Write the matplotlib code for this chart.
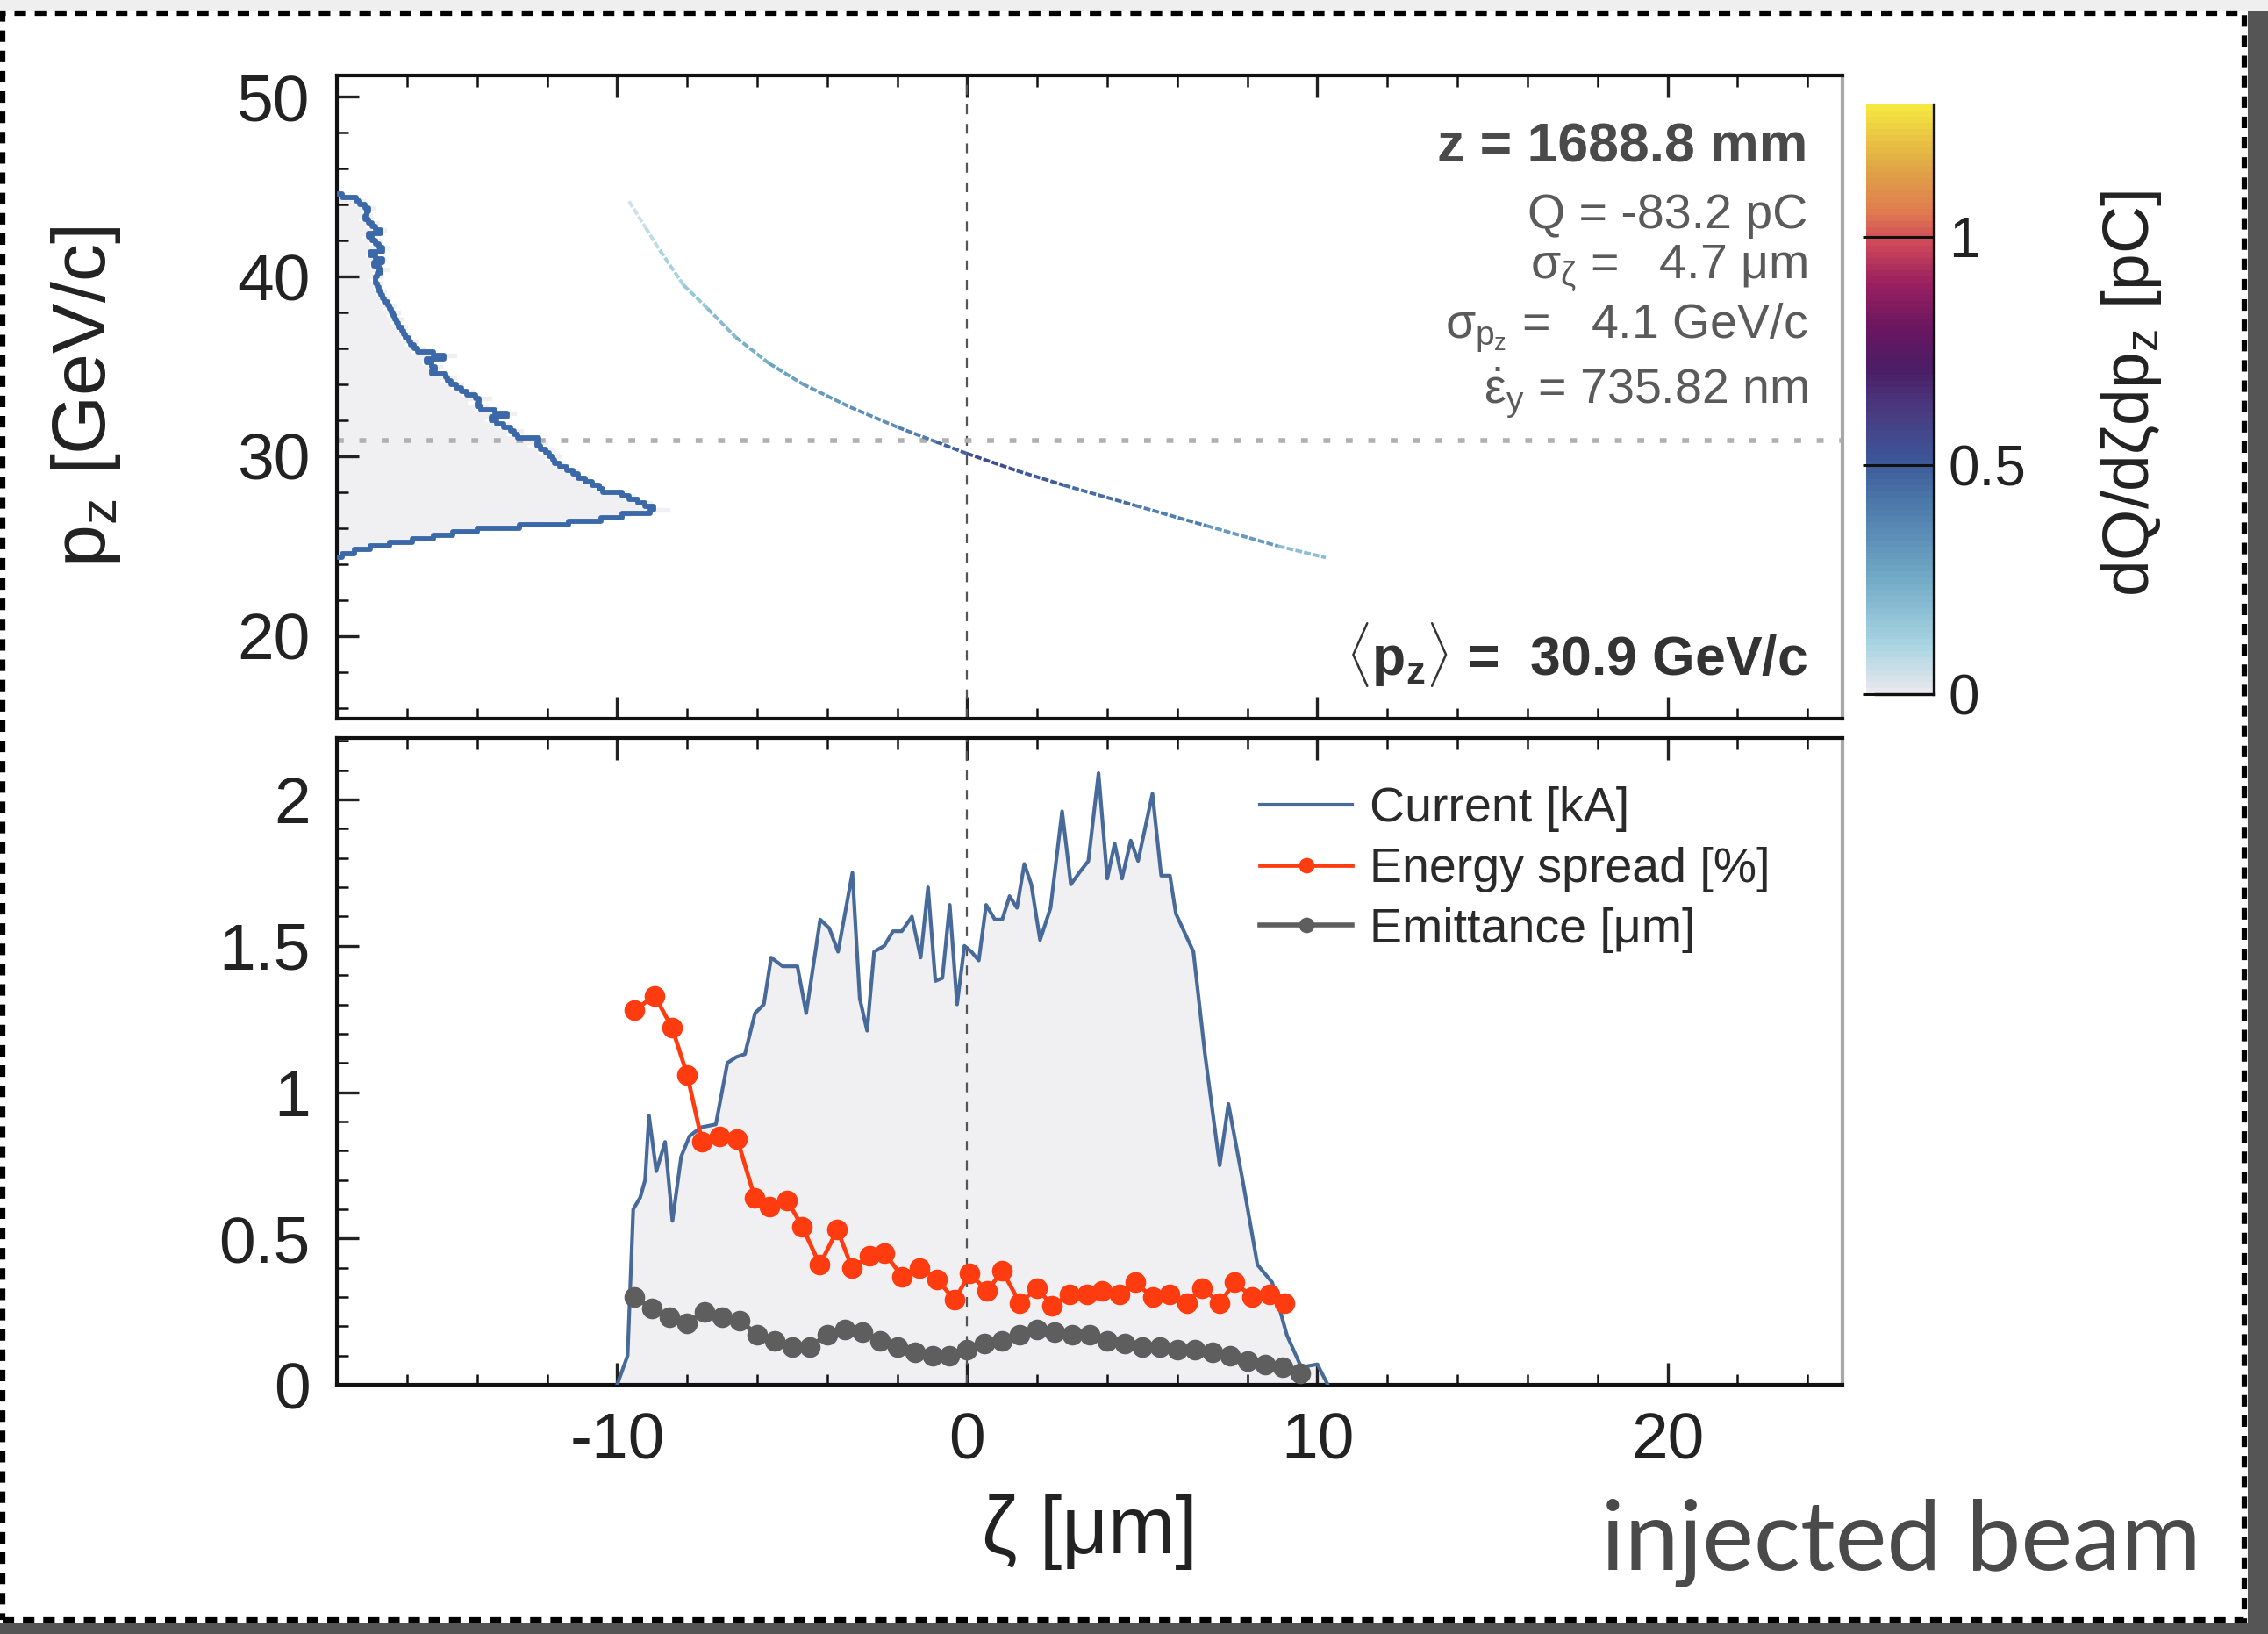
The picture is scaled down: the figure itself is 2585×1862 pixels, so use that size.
import numpy as np
import matplotlib
matplotlib.use('Agg')
import matplotlib.pyplot as plt
from matplotlib.colors import LinearSegmentedColormap, Normalize
from matplotlib.collections import LineCollection
from matplotlib.patches import Rectangle
from matplotlib.ticker import MultipleLocator, FormatStrFormatter
import matplotlib.cm as cm

plt.rcParams['font.family'] = ['Liberation Sans', 'DejaVu Sans']
plt.rcParams['mathtext.fontset'] = 'custom'
plt.rcParams['mathtext.rm'] = 'Liberation Sans'
plt.rcParams['mathtext.it'] = 'Liberation Sans'
plt.rcParams['mathtext.bf'] = 'Liberation Sans:bold'
plt.rcParams['axes.unicode_minus'] = False

# ---- datos ----
# proyeccion del espectro pz (ancho del histograma en unidades de zeta)
pz_bins = np.arange(24.4, 44.61, 0.2)
pz_hist = [0.0, 0.3, 0.7, 1.2, 1.8, 2.5, 3.0, 3.6, 4.4, 6.0,
           7.2, 7.9, 8.4, 9.5, 8.6, 9.0, 8.2, 8.5, 7.8, 7.4,
           7.6, 7.0, 7.2, 6.6, 6.9, 6.2, 6.5, 5.9, 6.4, 5.7,
           6.2, 5.4, 6.0, 5.5, 4.8, 5.3, 4.6, 4.9, 4.2, 4.6,
           5.1, 3.9, 4.3, 3.7, 4.4, 3.5, 3.9, 3.2, 3.6, 2.9,
           3.4, 2.8, 2.6, 3.0, 2.4, 2.7, 3.4, 2.1, 2.5, 1.9,
           2.3, 1.8, 2.1, 1.7, 2.0, 1.5, 1.9, 1.4, 1.8, 1.3,
           1.7, 1.2, 1.5, 1.1, 1.4, 1.0, 1.3, 0.9, 1.3, 1.0,
           1.5, 0.9, 1.2, 1.4, 0.8, 1.1, 1.5, 0.9, 1.3, 0.7,
           1.1, 1.4, 0.8, 1.2, 0.6, 1.0, 0.7, 1.1, 0.5, 0.8,
           0.3, 0.0]

# espacio de fases (zeta, pz) y densidad de carga
ps_zeta = [-9.66, -9.19, -8.78, -8.10, -7.42, -6.61, -5.66, -4.71, -3.35,
           -1.99, -0.90, -0.02, 1.41, 2.76, 4.80, 6.84, 8.88, 10.24]
ps_pz = [44.19, 42.74, 41.46, 39.52, 38.23, 36.62, 35.17, 34.03, 32.74,
         31.62, 30.81, 30.16, 29.20, 28.39, 27.26, 26.13, 25.00, 24.36]
ps_dens = [0.05, 0.08, 0.12, 0.16, 0.2, 0.24, 0.28, 0.3, 0.34,
           0.4, 0.48, 0.55, 0.5, 0.45, 0.4, 0.3, 0.18, 0.06]

# corriente
cur_zeta = [-10.0, -9.7, -9.54, -9.34, -9.2, -9.09, -8.88, -8.63, -8.42, -8.17,
            -7.93, -7.6, -7.18, -6.85, -6.6, -6.35, -6.06, -5.81, -5.6, -5.27,
            -4.85, -4.6, -4.2, -3.94, -3.69, -3.28, -3.07, -2.86, -2.66, -2.37,
            -2.12, -1.87, -1.58, -1.33, -1.12, -0.91, -0.71, -0.5, -0.29, -0.08,
            0.12, 0.33, 0.54, 0.79, 1.0, 1.21, 1.42, 1.63, 1.83, 2.08,
            2.38, 2.71, 2.96, 3.2, 3.46, 3.75, 4.0, 4.21, 4.42, 4.67,
            4.88, 5.29, 5.54, 5.79, 5.96, 6.46, 6.79, 7.21, 7.46, 7.88,
            8.29, 8.71, 9.13, 9.54, 10.0, 10.3]
cur_ka = [0.0, 0.10, 0.60, 0.64, 0.70, 0.92, 0.73, 0.83, 0.56, 0.78,
          0.85, 0.88, 0.89, 1.10, 1.12, 1.13, 1.27, 1.30, 1.46, 1.43,
          1.43, 1.27, 1.59, 1.56, 1.48, 1.75, 1.32, 1.21, 1.48, 1.50,
          1.55, 1.55, 1.60, 1.46, 1.70, 1.38, 1.39, 1.64, 1.30, 1.50,
          1.48, 1.45, 1.64, 1.59, 1.59, 1.67, 1.63, 1.78, 1.71, 1.52,
          1.63, 1.96, 1.71, 1.75, 1.79, 2.09, 1.73, 1.85, 1.73, 1.86,
          1.79, 2.02, 1.74, 1.74, 1.61, 1.48, 1.13, 0.75, 0.96, 0.69,
          0.41, 0.35, 0.17, 0.06, 0.07, 0.0]

# dispersion de energia
es_zeta = [-9.5, -8.93, -8.43, -8.0, -7.57, -7.07, -6.57, -6.07, -5.64, -5.14,
           -4.71, -4.21, -3.71, -3.29, -2.79, -2.36, -1.86, -1.36, -0.86, -0.36,
           0.07, 0.57, 1.0, 1.5, 2.0, 2.43, 2.93, 3.43, 3.86, 4.36,
           4.79, 5.29, 5.79, 6.29, 6.71, 7.21, 7.64, 8.14, 8.64, 9.07]
es_pct = [1.28, 1.33, 1.22, 1.06, 0.83, 0.85, 0.84, 0.64, 0.61, 0.63,
          0.54, 0.41, 0.53, 0.40, 0.44, 0.45, 0.37, 0.40, 0.36, 0.29,
          0.38, 0.32, 0.39, 0.28, 0.33, 0.27, 0.31, 0.31, 0.32, 0.31,
          0.35, 0.30, 0.31, 0.28, 0.33, 0.28, 0.35, 0.30, 0.31, 0.28]

# emitancia
em_zeta = [-9.5, -9.0, -8.5, -8.0, -7.5, -7.0, -6.5, -6.0, -5.5, -5.0,
           -4.5, -4.0, -3.5, -3.0, -2.5, -2.0, -1.5, -1.0, -0.5, 0.0,
           0.5, 1.0, 1.5, 2.0, 2.5, 3.0, 3.5, 4.0, 4.5, 5.0,
           5.5, 6.0, 6.5, 7.0, 7.5, 8.0, 8.5, 9.0, 9.5]
em_um = [0.30, 0.26, 0.23, 0.21, 0.25, 0.23, 0.22, 0.17, 0.15, 0.13,
         0.13, 0.17, 0.19, 0.18, 0.15, 0.13, 0.11, 0.10, 0.10, 0.12,
         0.14, 0.15, 0.17, 0.19, 0.18, 0.17, 0.17, 0.15, 0.14, 0.13,
         0.13, 0.12, 0.12, 0.11, 0.10, 0.08, 0.07, 0.06, 0.04]

pz_mean = 30.9
xmin, xmax = -18, 25

# ---- colores ----
cmap = LinearSegmentedColormap.from_list('carga', [
    (0.0, '#e8e8ee'), (0.08, '#a8d4e2'), (0.2, '#6fa7c4'), (0.33, '#4a76a8'),
    (0.4, '#3c5597'), (0.48, '#4a3a80'), (0.55, '#4a1e66'), (0.62, '#6a1660'),
    (0.7, '#9a2060'), (0.77, '#d04a58'), (0.82, '#e07a50'), (0.9, '#e0a845'),
    (1.0, '#f5e640')], N=96)
norm = Normalize(0, 1.29)
azul = '#476a9b'
gris_fondo = '#f0f0f2'
txt = '#222222'


def estilo(ax):
    for lado in ['left', 'top', 'bottom']:
        ax.spines[lado].set_linewidth(3)
        ax.spines[lado].set_color('#111111')
    ax.spines['right'].set_linewidth(3)
    ax.spines['right'].set_color('#a8a8a8')
    ax.tick_params(which='major', direction='in', length=18, width=2.4,
                   top=True, right=False, labelsize=54, pad=22, colors=txt)
    ax.tick_params(which='minor', direction='in', length=9, width=1.8,
                   top=True, right=False, colors='#111111')
    ax.xaxis.set_major_locator(MultipleLocator(10))
    ax.xaxis.set_minor_locator(MultipleLocator(2))
    ax.set_xlim(xmin, xmax)


fig = plt.figure(figsize=(25.85, 18.62), dpi=100)

# ---- panel superior ----
ax1 = fig.add_axes([0.1486, 0.5602, 0.6638, 0.3937])
estilo(ax1)
ancho = xmin + np.array(pz_hist)
ax1.fill_betweenx(pz_bins, xmin, ancho, step='mid', color=gris_fondo, zorder=1)
ax1.plot(ancho, pz_bins, drawstyle='steps-mid', color='#3b68a8', lw=4.2, zorder=3)

pts = np.column_stack([ps_zeta, ps_pz])
segs = np.stack([pts[:-1], pts[1:]], axis=1)
lc = LineCollection(segs, cmap=cmap, norm=norm, linewidths=2.8, zorder=4,
                    linestyles=[(0, (2, 0.6))])
lc.set_array(np.array(ps_dens[:-1]))
ax1.add_collection(lc)

ax1.axvline(0, color='#555555', lw=1.6, dashes=(5, 5), zorder=2)
ax1.axhline(pz_mean, color='#b0b0b0', lw=4, dashes=(1.4, 3.2), zorder=2)
ax1.set_ylim(15.4, 51.2)
ax1.yaxis.set_major_locator(MultipleLocator(10))
ax1.yaxis.set_minor_locator(MultipleLocator(2))
ax1.tick_params(labelbottom=False)
ax1.set_ylabel(r'p$_{\rm z}$ [GeV/c]', fontsize=62, color=txt)
ax1.yaxis.set_label_coords(-0.142, 0.5)

tx = 0.977
ax1.text(tx, 0.888, 'z = 1688.8 mm', transform=ax1.transAxes, ha='right', va='center',
         fontsize=45, fontweight='bold', color='#4a4a4a')
ax1.text(tx, 0.782, 'Q = -83.2 pC', transform=ax1.transAxes, ha='right', va='center',
         fontsize=40, color='#5a5a5a')
ax1.text(tx, 0.699, r'$\sigma_{\zeta}$ =   4.7 μm', transform=ax1.transAxes, ha='right',
         va='center', fontsize=40, color='#5a5a5a')
ax1.text(tx, 0.607, r'$\sigma_{p_z}$ =   4.1 GeV/c', transform=ax1.transAxes, ha='right',
         va='center', fontsize=40, color='#5a5a5a')
ax1.text(tx, 0.506, r'$\dot{\epsilon}_{y}$ = 735.82 nm', transform=ax1.transAxes, ha='right',
         va='center', fontsize=40, color='#5a5a5a')
ax1.text(tx, 0.099, r'$\langle\mathbf{p}_{\mathbf{z}}\rangle$ =  30.9 GeV/c',
         transform=ax1.transAxes, ha='right', va='center', fontsize=45,
         fontweight='bold', color='#333333')

# ---- barra de color ----
cax = fig.add_axes([0.8228, 0.5752, 0.0298, 0.361])
sm = cm.ScalarMappable(norm=norm, cmap=cmap)
cb = fig.colorbar(sm, cax=cax, ticks=[0, 0.5, 1])
cb.outline.set_visible(False)
cb.ax.yaxis.set_major_formatter(FormatStrFormatter('%g'))
cb.ax.tick_params(direction='in', length=58, width=2.2, labelsize=46, pad=12,
                  colors='#111111', labelcolor=txt)
cax.plot([1, 1], [0, 1.29], color='#111111', lw=2.4, clip_on=False)
cax.plot([0.15, 1], [0, 0], color='#111111', lw=2.4, clip_on=False)
cb.set_label(r'dQ/dζdp$_{\rm z}$ [pC]', fontsize=54, color=txt)
cb.ax.yaxis.set_label_coords(3.45, 0.51)

# ---- panel inferior ----
ax2 = fig.add_axes([0.1486, 0.1525, 0.6638, 0.3958])
estilo(ax2)
ax2.fill_between(cur_zeta, 0, cur_ka, color=gris_fondo, zorder=1)
ax2.plot(cur_zeta, cur_ka, color=azul, lw=3.0, zorder=3, label='Current [kA]')
ax2.plot(es_zeta, es_pct, color='#ff3b10', lw=3.4, marker='o', markersize=17,
         markeredgewidth=0, zorder=5, label='Energy spread [%]')
ax2.plot(em_zeta, em_um, color='#5e5e5e', lw=4, marker='o', markersize=17,
         markeredgewidth=0, zorder=4, label='Emittance [μm]')
ax2.axvline(0, color='#555555', lw=1.6, dashes=(5, 5), zorder=2)
ax2.set_ylim(0, 2.21)
ax2.yaxis.set_major_locator(MultipleLocator(0.5))
ax2.yaxis.set_minor_locator(MultipleLocator(0.1))
ax2.yaxis.set_major_formatter(FormatStrFormatter('%g'))
ax2.set_xlabel('ζ [μm]', fontsize=66, color=txt)
ax2.xaxis.set_label_coords(0.5, -0.17)

leg = ax2.legend(loc='upper left', bbox_to_anchor=(0.6, 0.955), frameon=False,
                 fontsize=40, handlelength=1.9, handletextpad=0.35, labelspacing=0.3,
                 borderaxespad=0, markerscale=0.75)
for t in leg.get_texts():
    t.set_color('#2a2a2a')

# ---- marco y texto de la diapositiva ----
fig.add_artist(Rectangle((0, 1 - 12 / 1862), 1, 12 / 1862, transform=fig.transFigure,
                         color='#efefef', lw=0, zorder=-5))
fig.add_artist(Rectangle((2562 / 2585, 0), 23 / 2585, 1 - 12 / 1862, transform=fig.transFigure,
                         color='#555555', lw=0, zorder=-5))
fig.add_artist(Rectangle((0, 0), 2562 / 2585, 13 / 1862, transform=fig.transFigure,
                         color='#555555', lw=0, zorder=-5))
fig.add_artist(Rectangle((3 / 2585, 16 / 1862), 2555 / 2585, 1831 / 1862,
                         transform=fig.transFigure, fill=False, edgecolor='black',
                         lw=4.5, linestyle=(0, (2.1, 1.6)), zorder=10))
fig.text(0.9706, 0.0392, 'injected beam', ha='right', va='baseline', fontsize=80,
         family=['Lato', 'DejaVu Sans'], color='#4a4a4a')

fig.savefig('out.png', dpi=100)
